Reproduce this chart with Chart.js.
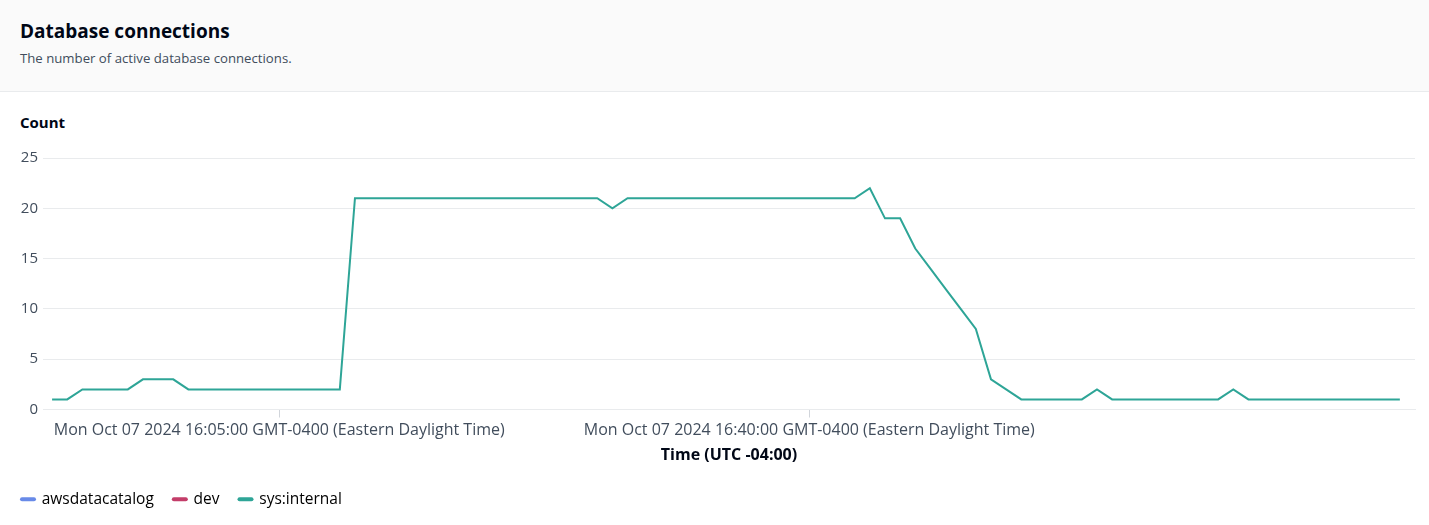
<!DOCTYPE html>
<html>
<head>
<meta charset="utf-8">
<script src="https://cdn.jsdelivr.net/npm/chart.js@4"></script>
<style>
    body { margin: 0; width: 1429px; height: 525px; overflow: hidden; background: #fff; font-family: 'Open Sans', sans-serif; }
    .header { position: absolute; left: 0; top: 0; width: 1429px; height: 91px; background: #fafafa; border-bottom: 1px solid #e9ebed; }
    .header h2 { position: absolute; left: 20px; top: 18px; margin: 0; font-size: 19px; font-weight: 700; color: #000716; }
    .header p { position: absolute; left: 20px; top: 49px; margin: 0; font-size: 13.2px; color: #414d5c; }
    .unit { position: absolute; left: 20px; top: 112px; font-size: 15px; font-weight: 700; color: #000716; }
    .wrap { position: absolute; left: 0; top: 135px; width: 1429px; height: 390px; }
</style>
</head>
<body>
<div class="header">
    <h2>Database connections</h2>
    <p>The number of active database connections.</p>
</div>
<div class="unit">Count</div>
<div class="wrap"><canvas id="chart"></canvas></div>
<script>
// one point per minute, starting 15:50 (minutes since midnight)
const startMinute = 950;
const seriesNames = ['awsdatacatalog', 'dev', 'sys:internal'];
const seriesColors = ['#688ae8', '#c33d69', '#2ea597'];

const sysInternal = [
    1, 1, 2, 2, 2, 2, 3, 3, 3, 2,
    2, 2, 2, 2, 2, 2, 2, 2, 2, 2,
    21, 21, 21, 21, 21, 21, 21, 21, 21, 21,
    21, 21, 21, 21, 21, 21, 21, 20, 21, 21,
    21, 21, 21, 21, 21, 21, 21, 21, 21, 21,
    21, 21, 21, 21, 22, 19, 19, 16, 14, 12,
    10, 8, 3, 2, 1, 1, 1, 1, 1, 2,
    1, 1, 1, 1, 1, 1, 1, 1, 2, 1,
    1, 1, 1, 1, 1, 1, 1, 1, 1, 1
];
const awsDataCatalog = [];
const dev = [];

const xMin = 949.4;
const xMax = 1040;
const tickMinutes = [965, 1000];
const tickLabels = [
    'Mon Oct 07 2024 16:05:00 GMT-0400 (Eastern Daylight Time)',
    'Mon Oct 07 2024 16:40:00 GMT-0400 (Eastern Daylight Time)'
];
const yTicks = [0, 5, 10, 15, 20, 25];

function toPoints(values) {
    return values.map((v, i) => ({ x: startMinute + i, y: v }));
}

Chart.defaults.font.family = "'Open Sans', sans-serif";
Chart.defaults.color = '#414d5c';

const seriesData = [awsDataCatalog, dev, sysInternal];

new Chart(document.getElementById('chart'), {
    type: 'line',
    data: {
        datasets: seriesNames.map((name, i) => ({
            label: name,
            data: toPoints(seriesData[i]),
            borderColor: seriesColors[i],
            backgroundColor: seriesColors[i],
            borderWidth: 2,
            pointRadius: 0,
            tension: 0
        }))
    },
    options: {
        responsive: true,
        maintainAspectRatio: false,
        animation: false,
        layout: { padding: { left: 2, right: 14, top: 23, bottom: 8 } },
        plugins: {
            tooltip: { enabled: false },
            legend: {
                position: 'bottom',
                align: 'start',
                labels: {
                    usePointStyle: true,
                    pointStyleWidth: 12,
                    padding: 20,
                    color: '#000716',
                    font: { size: 15.5 },
                    generateLabels: (chart) => chart.data.datasets.map((ds, i) => ({
                        text: ds.label,
                        pointStyle: 'line',
                        strokeStyle: ds.borderColor,
                        fillStyle: ds.borderColor,
                        lineWidth: 4,
                        lineCap: 'round',
                        datasetIndex: i
                    }))
                }
            }
        },
        scales: {
            x: {
                type: 'linear',
                min: xMin,
                max: xMax,
                afterBuildTicks: (scale) => { scale.ticks = tickMinutes.map(v => ({ value: v })); },
                afterFit: (scale) => { scale.height = 62; },
                grid: { drawOnChartArea: false, drawTicks: true, tickLength: 8, color: '#d1d5db' },
                border: { display: true, color: '#e9ebed' },
                ticks: {
                    autoSkip: false,
                    maxRotation: 0,
                    padding: 3,
                    font: { size: 16 },
                    color: '#414d5c',
                    callback: (value) => {
                        const k = tickMinutes.indexOf(value);
                        return k >= 0 ? tickLabels[k] : '';
                    }
                },
                title: {
                    display: true,
                    text: 'Time (UTC -04:00)',
                    color: '#000716',
                    font: { size: 16, weight: 'bold' },
                    padding: { top: 0, bottom: 6 }
                }
            },
            y: {
                min: 0,
                max: 25,
                afterBuildTicks: (scale) => { scale.ticks = yTicks.map(v => ({ value: v })); },
                afterFit: (scale) => { scale.width = 41; },
                grid: { color: '#e9ebed', drawTicks: false },
                border: { display: false },
                ticks: { padding: 5, font: { size: 15 }, color: '#414d5c' }
            }
        }
    }
});
</script>
</body>
</html>
